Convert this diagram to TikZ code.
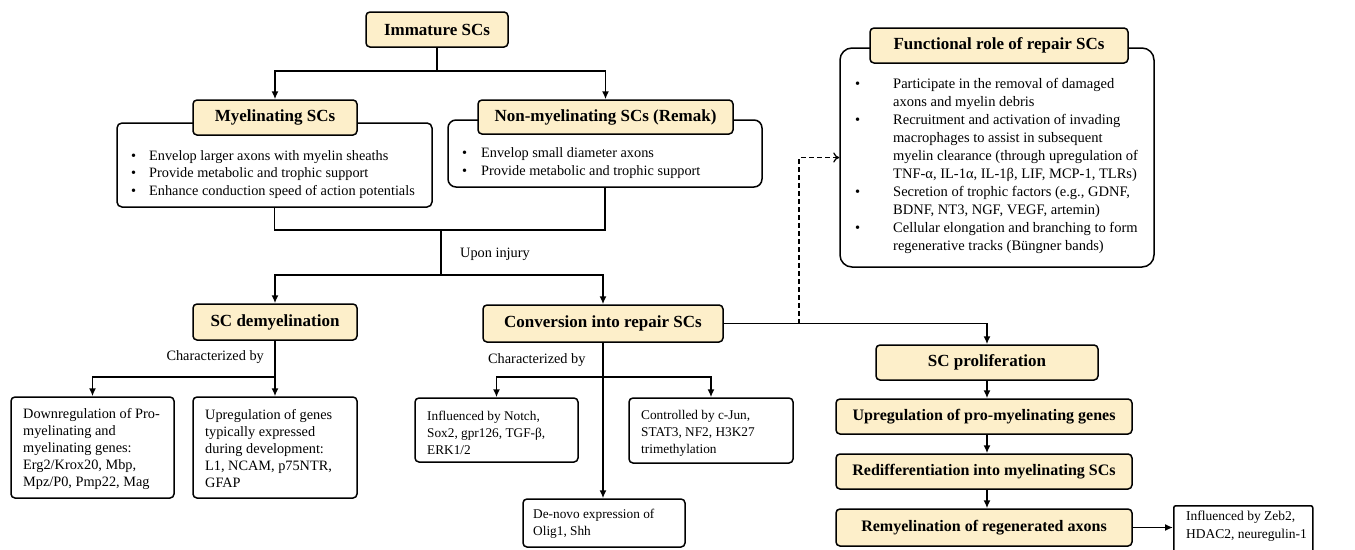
\documentclass[tikz,border=0pt]{standalone}
\usepackage{fontspec}
\setmainfont{Liberation Serif}
\usetikzlibrary{arrows.meta}
\definecolor{beige}{RGB}{253,239,202}
\newcommand{\bulA}[1]{\makebox[#1][l]{\textbullet}}
\begin{document}
\begin{tikzpicture}[x=1pt,y=-1pt,
  ln/.style={line width=1.5pt},
  arr/.style={line width=1.5pt,-{Latex[length=8pt,width=7pt]}},
  ttl/.style={draw,line width=1.5pt,rounded corners=4pt,fill=beige,inner sep=0pt,
    font=\fontsize{17}{20}\selectfont\bfseries},
  ttlb/.style={ttl,font=\fontsize{16}{19}\selectfont\bfseries},
  bodyb/.style={draw,line width=1.5pt,fill=white,inner sep=0pt},
  tbox/.style={draw,line width=1.5pt,fill=white,inner sep=0pt,rounded corners=4pt},
  txt/.style={align=left,inner sep=0pt,anchor=west},
  lbl/.style={inner sep=0pt,font=\fontsize{14.3}{17}\selectfont}]
\useasboundingbox (0,0) rectangle (1355,549);

% top
\node[ttl,minimum width=142pt,minimum height=35pt] (imm) at (437,29.5) {Immature SCs};

\node[bodyb,rounded corners=5pt,minimum width=315pt,minimum height=84pt] (mb) at (274.5,165) {};
\node[ttl,minimum width=164pt,minimum height=35pt] (mt) at (275,117.5) {Myelinating SCs};
\node[txt,font=\fontsize{14.3}{17.5}\selectfont] (mtx) at (131,174.5)
  {\bulA{18pt}Envelop larger axons with myelin sheaths\\
   \bulA{18pt}Provide metabolic and trophic support\\
   \bulA{18pt}Enhance conduction speed of action potentials};

\node[bodyb,rounded corners=8pt,minimum width=314pt,minimum height=67pt] (nb) at (605,153.5) {};
\node[ttl,minimum width=255pt,minimum height=34pt] (nt) at (605.5,117) {Non-myelinating SCs (Remak)};
\node[txt,font=\fontsize{14.3}{18}\selectfont] (ntx) at (462,163)
  {\bulA{19pt}Envelop small diameter axons\\
   \bulA{19pt}Provide metabolic and trophic support};

% functional role
\node[bodyb,rounded corners=12pt,minimum width=314pt,minimum height=219pt] (fb) at (997,157.5) {};
\node[ttl,minimum width=258pt,minimum height=35pt] (ft) at (999,45.5) {Functional role of repair SCs};
\node[txt,font=\fontsize{14.5}{18}\selectfont] (ftx) at (855,166)
  {\bulA{38pt}Participate in the removal of damaged\\
   \hspace*{38pt}axons and myelin debris\\
   \bulA{38pt}Recruitment and activation of invading\\
   \hspace*{38pt}macrophages to assist in subsequent\\
   \hspace*{38pt}myelin clearance (through upregulation of\\
   \hspace*{38pt}TNF-α, IL-1α, IL-1β, LIF, MCP-1, TLRs)\\
   \bulA{38pt}Secretion of trophic factors (e.g., GDNF,\\
   \hspace*{38pt}BDNF, NT3, NGF, VEGF, artemin)\\
   \bulA{38pt}Cellular elongation and branching to form\\
   \hspace*{38pt}regenerative tracks (Büngner bands)};

% injury stage
\node[ttl,minimum width=164pt,minimum height=36pt] (sd) at (275,322) {SC demyelination};
\node[ttl,minimum width=240pt,minimum height=37pt] (cv) at (603,323.5) {Conversion into repair SCs};

\node[tbox,minimum width=163pt,minimum height=101pt] (c1) at (92.5,447.5) {};
\node[txt,font=\fontsize{14.3}{17}\selectfont] (c1t) at (23,449)
  {Downregulation of Pro-\\myelinating and\\myelinating genes:\\Erg2/Krox20, Mbp,\\Mpz/P0, Pmp22, Mag};
\node[tbox,minimum width=164pt,minimum height=101pt] (c2) at (275,447.5) {};
\node[txt,font=\fontsize{14.3}{17}\selectfont] (c2t) at (205,449)
  {Upregulation of genes\\typically expressed\\during development:\\L1, NCAM, p75NTR,\\GFAP};

\node[tbox,minimum width=163pt,minimum height=64pt] (n1) at (496.5,430) {};
\node[txt,font=\fontsize{13.3}{17}\selectfont] (n1t) at (427,433)
  {Influenced by Notch,\\Sox2, gpr126, TGF-β,\\ERK1/2};
\node[tbox,minimum width=164pt,minimum height=65pt] (n2) at (711,430.5) {};
\node[txt,font=\fontsize{13.3}{17}\selectfont] (n2t) at (641,433)
  {Controlled by c-Jun,\\STAT3, NF2, H3K27\\trimethylation};
\node[tbox,minimum width=162pt,minimum height=48pt] (dn) at (604,523) {};
\node[txt,font=\fontsize{13.3}{17}\selectfont] (dnt) at (533,523.5)
  {De-novo expression of\\Olig1, Shh};

% regeneration chain
\node[ttl,minimum width=222pt,minimum height=35pt] (sp) at (987,362.5) {SC proliferation};
\node[ttlb,minimum width=296pt,minimum height=35pt] (up) at (984,416.5) {Upregulation of pro-myelinating genes};
\node[ttlb,minimum width=296pt,minimum height=35pt] (rd) at (984,471.5) {Redifferentiation into myelinating SCs};
\node[ttlb,minimum width=296pt,minimum height=37pt] (rm) at (984,527.5) {Remyelination of regenerated axons};
\node[tbox,rounded corners=2pt,minimum width=139pt,minimum height=56pt,anchor=north west] (zb) at (1173,505) {};
\node[txt,font=\fontsize{13.5}{18}\selectfont] (zbt) at (1186,526)
  {Influenced by Zeb2,\\HDAC2, neuregulin-1};

% labels
\node[lbl,anchor=west] (inj) at (460,254) {Upon injury};
\node[lbl,anchor=east] (ch1) at (264,357) {Characterized by};
\node[lbl,anchor=west] (ch2) at (488,360) {Characterized by};

% junctions
\coordinate (j1) at (437,71);
\coordinate (j2) at (441,230);
\coordinate (j3) at (441,275);
\coordinate (j4) at (274,377);
\coordinate (j5) at (603,377);
\coordinate (j6) at (799,0);

% connectors
\draw[ln] (imm.south) -- (j1);
\draw[arr] (j1) -| (mt.north);
\draw[arr] (j1) -| (nt.north);
\draw[ln] (mb.south) |- (j2) -| (nb.south);
\draw[ln] (j2) -- (j3);
\draw[arr] (j3) -| (sd.north);
\draw[arr] (j3) -| (cv.north);

\draw[arr] (sd.south) -- (sd.south |- c2.north);
\draw[arr] (j4) -| (c1.north);

\draw[arr] (cv.south) -- (cv.south |- dn.north);
\draw[arr] (j5) -| (n1.north);
\draw[arr] (j5) -| (n2.north);

\draw[arr] (cv.east) -| (sp.north);
\draw[line width=1.2pt,dash pattern=on 4.5pt off 3.5pt,-{To[length=6pt,width=10pt]}] (j6 |- cv.east) |- (fb.west);

\draw[arr] (sp.south) -- (sp.south |- up.north);
\draw[arr] (sp.south |- up.south) -- (sp.south |- rd.north);
\draw[arr] (sp.south |- rd.south) -- (sp.south |- rm.north);
\draw[arr] (rm.east) -- (zb.west |- rm.east);
\end{tikzpicture}
\end{document}
